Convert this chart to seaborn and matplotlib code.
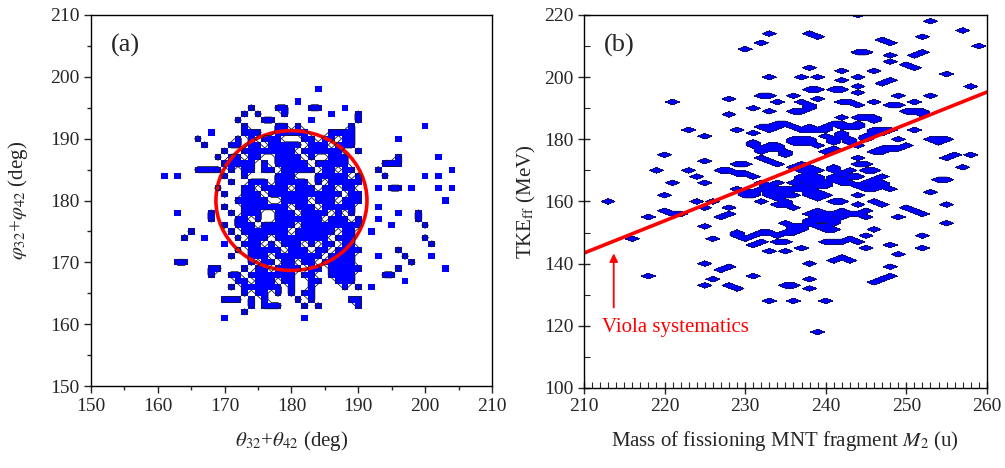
import numpy as np
import seaborn as sns
import matplotlib.pyplot as plt
from matplotlib.colors import ListedColormap
from matplotlib.patches import Circle
from matplotlib.ticker import MultipleLocator

sns.set_theme(style='ticks')
plt.rcParams['font.family'] = ['Liberation Serif', 'DejaVu Serif']
plt.rcParams['mathtext.fontset'] = 'stix'

# ---- panel (a): occupied cells of the angle-angle map, one row per phi value
phi_rows = list(range(198, 160, -1))
theta_hits = [
    [184],
    [],
    [181],
    [174, 178, 179, 183, 184, 188],
    [173, 175, 179, 186, 190],
    [172, 176, 177, 183, 190],
    [173, 178, 179, 181, 189, 200],
    [168, 173, 174, 175, 178, 179, 180, 181, 182, 186, 187, 188, 189],
    [166, 172, 174, 176, 177, 178, 182, 183, 185, 186, 188, 189, 196],
    [167, 171, 172, 174, 175, 177, 178, 179, 180, 181, 183, 184, 185, 187, 188, 189],
    [170, 173, 174, 175, 176, 177, 178, 179, 180, 182, 183, 184, 185, 186, 187, 190],
    [169, 171, 172, 174, 175, 178, 179, 180, 181, 183, 186, 187, 188, 196, 202],
    [170, 171, 172, 173, 174, 176, 178, 179, 180, 181, 182, 184, 185, 186, 187, 188, 194, 195, 196],
    [166, 167, 168, 169, 171, 173, 174, 176, 177, 179, 180, 181, 182, 183, 185, 186, 188, 189, 193, 204],
    [161, 163, 170, 173, 178, 179, 180, 184, 185, 186, 187, 188, 190, 194, 200, 202],
    [171, 174, 175, 176, 178, 179, 180, 181, 182, 184, 186, 187, 188, 189, 190],
    [169, 173, 174, 176, 177, 178, 179, 181, 182, 183, 185, 186, 188, 189, 193, 195, 196, 198, 202, 204],
    [170, 173, 174, 175, 177, 178, 179, 180, 181, 182, 183, 184, 185, 186, 187, 189, 190],
    [172, 173, 174, 175, 176, 179, 180, 181, 182, 184, 185, 186, 188, 189, 190, 203],
    [170, 173, 174, 175, 176, 177, 178, 179, 181, 182, 183, 185, 186, 187, 188, 189, 193],
    [163, 168, 171, 173, 174, 175, 178, 179, 180, 182, 183, 184, 185, 187, 189, 196, 199],
    [168, 172, 173, 175, 178, 179, 180, 181, 182, 183, 184, 186, 187, 188, 190, 193, 199],
    [170, 172, 173, 174, 176, 177, 178, 179, 180, 182, 183, 184, 185, 186, 187, 188, 189, 190, 195, 200],
    [165, 171, 173, 174, 175, 176, 177, 178, 179, 181, 182, 183, 184, 185, 186, 188, 189, 192],
    [164, 167, 172, 174, 175, 176, 178, 179, 180, 181, 182, 183, 184, 185, 187, 188, 189, 200],
    [170, 173, 174, 175, 177, 179, 180, 181, 183, 185, 186, 188, 189, 201],
    [172, 174, 175, 176, 177, 178, 180, 181, 182, 184, 185, 187, 188, 189, 190, 196],
    [171, 174, 175, 176, 178, 179, 180, 181, 182, 183, 184, 186, 187, 188, 189, 193, 197, 201],
    [163, 164, 174, 176, 177, 179, 180, 182, 183, 185, 186, 187, 188, 189, 198],
    [168, 169, 173, 175, 176, 178, 179, 180, 181, 183, 184, 186, 187, 188, 189, 190, 196, 203],
    [168, 171, 172, 174, 175, 176, 177, 178, 179, 180, 182, 183, 186, 187, 188, 189, 194, 195],
    [172, 173, 175, 176, 177, 179, 180, 183, 184, 187, 188, 189, 197],
    [171, 173, 174, 175, 176, 177, 178, 180, 183, 188, 190, 192],
    [173, 175, 176, 178, 180, 182, 183],
    [170, 171, 172, 174, 176, 181, 183, 189, 190],
    [174, 176, 177, 178, 182, 184, 190],
    [173],
    [170, 182],
]
circle_center = (180.0, 180.0)
circle_radius = 11.3

# ---- panel (b): TKE vs mass cells (outer scatter, then the dense core)
mass_pts = [244, 253, 257, 252, 247, 248, 233, 232, 230, 238, 239, 259, 244, 245,
            251, 252, 248, 248, 250, 251, 238, 242, 246, 255, 233, 237, 239, 242,
            244, 244, 244, 247, 248, 258, 241, 242, 232, 233, 236, 238, 239, 228,
            234, 237, 238, 238, 236, 237, 239, 242, 243, 231, 233, 228, 246, 248,
            249, 249, 251, 253, 250, 251, 252, 252, 242, 244, 245, 246, 246, 244,
            223, 225, 229, 231, 232, 233, 234, 235, 236, 238, 237, 239, 240, 241,
            242, 243, 244, 246, 247, 248, 251, 249, 250, 253, 254, 254, 255, 231,
            233, 234, 236, 237, 238, 239, 247, 248, 249, 258, 255, 256, 257, 220,
            225, 219, 223, 224, 225, 221, 229, 230, 227, 228, 229, 230, 231, 232,
            233, 234, 232, 233, 234, 235, 236, 237, 238, 237, 238, 239, 239, 238,
            239, 240, 237, 241, 242, 243, 241, 242, 246, 247, 248, 246, 254, 255,
            253, 244, 241, 242, 244, 246, 247, 255, 250, 251, 252, 255, 249, 245,
            242, 243, 244, 245, 238, 239, 240, 241, 238, 239, 240, 241, 235, 236,
            237, 229, 230, 231, 232, 233, 234, 235, 236, 226, 227, 228, 225, 228,
            226, 224, 220, 220, 221, 218, 222, 225, 229, 232, 231, 234, 235, 233,
            235, 237, 240, 241, 242, 243, 244, 245, 245, 246, 248, 249, 252, 252,
            241, 242, 243, 238, 248, 225, 227, 228, 226, 225, 228, 229, 231, 218,
            236, 235, 238, 238, 233, 236, 240, 246, 247, 248, 239, 213, 216, 221,
            237, 238, 238, 239, 237, 238, 239, 238, 240, 239, 232, 233, 234, 235,
            233, 234, 235, 236, 232, 229, 230, 231, 241, 242, 243, 241, 244, 245,
            246, 247, 245, 246, 244, 231, 232, 234, 235, 240, 241, 242, 243, 244,
            245, 239, 240, 241, 240, 241,
            233, 234, 238, 240, 242, 244, 246, 247, 236, 237, 238, 241, 242, 243,
            245, 232, 233, 234, 235, 240, 241, 246, 247, 236, 237, 238, 239, 240,
            236, 237, 238, 239, 233, 234, 235, 231, 230, 234, 235, 236, 242, 243,
            244, 245, 247, 246, 244, 245, 239, 240, 241, 242, 238, 237, 236]
tke_pts = [220, 218, 215, 213, 212, 211, 214, 211, 209, 214, 213, 210, 208, 208,
           207, 208, 207, 205, 204, 203, 203, 202, 202, 201, 200, 200, 200, 199,
           200, 197, 195, 198, 199, 197, 196, 196, 194, 194, 194, 196, 196, 193,
           192, 192, 191, 190, 189, 189, 193, 192, 192, 190, 189, 188, 192, 191,
           191, 194, 192, 194, 189, 189, 188, 189, 187, 187, 187, 187, 186, 191,
           183, 181, 183, 182, 184, 184, 185, 185, 184, 184, 183, 183, 184, 185,
           185, 184, 185, 183, 183, 183, 183, 180, 178, 180, 180, 179, 180, 178,
           178, 178, 180, 180, 180, 178, 177, 177, 177, 175, 174, 175, 171, 175,
           173, 170, 170, 168, 166, 166, 172, 172, 170, 170, 169, 169, 168, 174,
           173, 172, 164, 163, 164, 163, 164, 171, 170, 168, 167, 168, 166, 164,
           163, 165, 165, 170, 169, 168, 167, 166, 166, 165, 164, 165, 167, 167,
           163, 162, 160, 160, 159, 160, 159, 159, 158, 157, 156, 153, 155, 157,
           157, 156, 156, 155, 156, 155, 154, 153, 153, 152, 151, 151, 153, 152,
           151, 149, 148, 149, 150, 150, 149, 150, 150, 148, 155, 156, 158, 158,
           160, 160, 162, 157, 156, 155, 156, 152, 150, 147, 146, 147, 147, 144,
           144, 145, 147, 147, 147, 148, 147, 149, 145, 151, 146, 143, 149, 145,
           141, 142, 141, 140, 139, 140, 138, 139, 135, 133, 133, 132, 136, 136,
           133, 133, 135, 132, 128, 128, 128, 134, 135, 136, 118, 160, 148, 192,
           172, 171, 169, 170, 167, 166, 165, 163, 162, 161, 166, 165, 166, 164,
           162, 161, 160, 162, 160, 164, 163, 162, 171, 169, 170, 168, 174, 172,
           170, 168, 166, 164, 168, 179, 177, 178, 176, 181, 179, 182, 180, 178,
           181, 157, 155, 156, 152, 151,
           183, 184, 183, 183, 184, 184, 182, 182, 179, 179, 179, 180, 181, 179,
           180, 176, 177, 177, 175, 176, 177, 176, 176, 171, 170, 168, 167, 166,
           166, 164, 162, 162, 164, 163, 162, 163, 162, 159, 159, 158, 167, 166,
           165, 164, 166, 167, 172, 170, 154, 156, 154, 155, 154, 152, 151]
viola_mass = [210, 260]
viola_tke = [143.4, 195.2]

# flatten panel (a) rows into cell coordinates
theta_pts = [t for row, hits in zip(phi_rows, theta_hits) for t in hits]
phi_pts = [row for row, hits in zip(phi_rows, theta_hits) for _ in hits]

fig = plt.figure(figsize=(10.05, 4.68), dpi=100)
ax1 = fig.add_axes([0.0905, 0.175, 0.399, 0.793])
ax2 = fig.add_axes([0.581, 0.171, 0.401, 0.797])

blue = '#0000ff'

# (a) cells as a discrete 2D histogram, outlines from the occupancy grid
sns.histplot(x=theta_pts, y=phi_pts, discrete=True, cmap=ListedColormap([blue]),
             ax=ax1, cbar=False)
occ, xe, ye = np.histogram2d(theta_pts, phi_pts,
                             bins=[np.arange(149.5, 211.5), np.arange(149.5, 211.5)])
occ = (occ > 0).astype(float)
pad = np.pad(occ, 1)
neigh = sum(np.roll(np.roll(pad, i, 0), j, 1) for i in (-1, 0, 1) for j in (-1, 0, 1))[1:-1, 1:-1] - occ
lines = np.where(neigh > 0, occ, 0)
xc = 0.5 * (xe[1:] + xe[:-1])
yc = 0.5 * (ye[1:] + ye[:-1])
ax1.contour(xc, yc, lines.T, levels=[0.5], colors='k', linewidths=0.6)
ax1.add_patch(Circle(circle_center, circle_radius, fill=False, ec='#ff0000', lw=2.6))

ax1.set_xlim(150, 210)
ax1.set_ylim(150, 210)
ax1.xaxis.set_major_locator(MultipleLocator(10))
ax1.xaxis.set_minor_locator(MultipleLocator(5))
ax1.yaxis.set_major_locator(MultipleLocator(10))
ax1.yaxis.set_minor_locator(MultipleLocator(5))
ax1.tick_params(which='major', direction='out', length=5, width=1, labelsize=14)
ax1.tick_params(which='minor', direction='out', length=3, width=1)
ax1.set_xlabel(r'$\theta_{32}$+$\theta_{42}$ (deg)', fontsize=15, labelpad=10)
ax1.set_ylabel(r'$\varphi_{32}$+$\varphi_{42}$ (deg)', fontsize=15, labelpad=14)
ax1.text(0.05, 0.95, '(a)', transform=ax1.transAxes, fontsize=19, va='top', ha='left')

# (b) filled contours of the mass-TKE cells
cnt, me, te = np.histogram2d(mass_pts, tke_pts,
                             bins=[np.arange(204.5, 266.5), np.arange(94.5, 226.5)])
cnt = (cnt > 0).astype(float)
mc = 0.5 * (me[1:] + me[:-1])
tc = 0.5 * (te[1:] + te[:-1])
ax2.contourf(mc, tc, cnt.T, levels=[0.13, 10], colors=[blue])
ax2.contour(mc, tc, cnt.T, levels=[0.13], colors='k', linewidths=0.45)
sns.lineplot(x=viola_mass, y=viola_tke, color='#ff0000', lw=2.6, ax=ax2)
ax2.annotate('', xy=(213.7, 144.2), xytext=(213.7, 125),
             arrowprops=dict(arrowstyle='-|>', color='#ff0000', lw=1.3, mutation_scale=12))
ax2.text(212.3, 119.5, 'Viola systematics', color='#ff0000', fontsize=15,
         va='center', ha='left')

ax2.set_xlim(210, 260)
ax2.set_ylim(100, 220)
ax2.xaxis.set_major_locator(MultipleLocator(10))
ax2.xaxis.set_minor_locator(MultipleLocator(1))
ax2.yaxis.set_major_locator(MultipleLocator(20))
ax2.yaxis.set_minor_locator(MultipleLocator(10))
ax2.tick_params(which='major', direction='inout', length=8, width=1, labelsize=14)
ax2.tick_params(which='minor', direction='in', length=4, width=0.8)
ax2.set_xlabel(r'Mass of fissioning MNT fragment $M_2$ (u)', fontsize=15, labelpad=10)
ax2.set_ylabel(r'TKE$_{\rm ff}$ (MeV)', fontsize=15, labelpad=4)
ax2.text(0.05, 0.95, '(b)', transform=ax2.transAxes, fontsize=19, va='top', ha='left')

for ax in (ax1, ax2):
    for sp in ax.spines.values():
        sp.set_visible(True)
        sp.set_color('black')
        sp.set_linewidth(1.0)

fig.savefig('out.png', dpi=100)
